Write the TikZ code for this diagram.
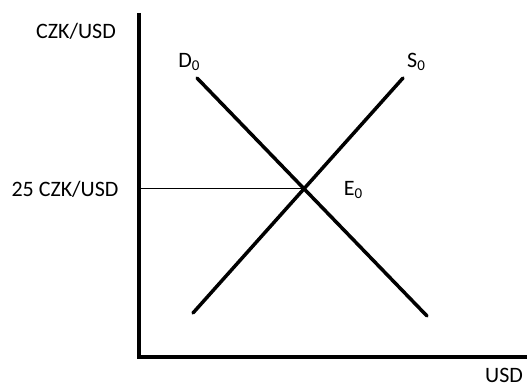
\documentclass[tikz,border=0pt]{standalone}
\usepackage{fontspec}
\setmainfont{Carlito}
\usetikzlibrary{calc}
\newcommand{\lowsub}[1]{\raisebox{-3pt}{\fontsize{15}{15}\selectfont #1}}
\begin{document}
\begin{tikzpicture}[x=1pt,y=-1pt,
  lbl/.style={inner sep=0pt,font=\fontsize{22}{26}\selectfont},
  axis/.style={line width=3.5pt},
  curve/.style={line width=3.5pt,line cap=round},
  guide/.style={line width=1.2pt}]
\useasboundingbox (0,0) rectangle (527,387);
% axes
\coordinate (ytop) at (139,13);
\coordinate (orig) at (139,357);
\coordinate (xend) at (527,357);
\draw[axis] (ytop) -- (orig) -- (xend);
% curves
\coordinate (d1) at (197,78);
\coordinate (d2) at (427,316);
\coordinate (s1) at (193,313);
\coordinate (s2) at (403,78);
\draw[curve] (d1) -- (d2);
\draw[curve] (s1) -- (s2);
\coordinate (e) at (intersection of d1--d2 and s1--s2);
\draw[guide] (ytop |- e) -- (e);
% labels
\node[lbl] (ylab) at (76,31) {CZK/USD};
\node[lbl] (dlab) at (189,62) {D\lowsub{0}};
\node[lbl] (slab) at (416,62) {S\lowsub{0}};
\node[lbl] (elab) at (353,190) {E\lowsub{0}};
\node[lbl] (plab) at (65,189) {25 CZK/USD};
\node[lbl] (xlab) at (504,375) {USD};
\end{tikzpicture}
\end{document}
